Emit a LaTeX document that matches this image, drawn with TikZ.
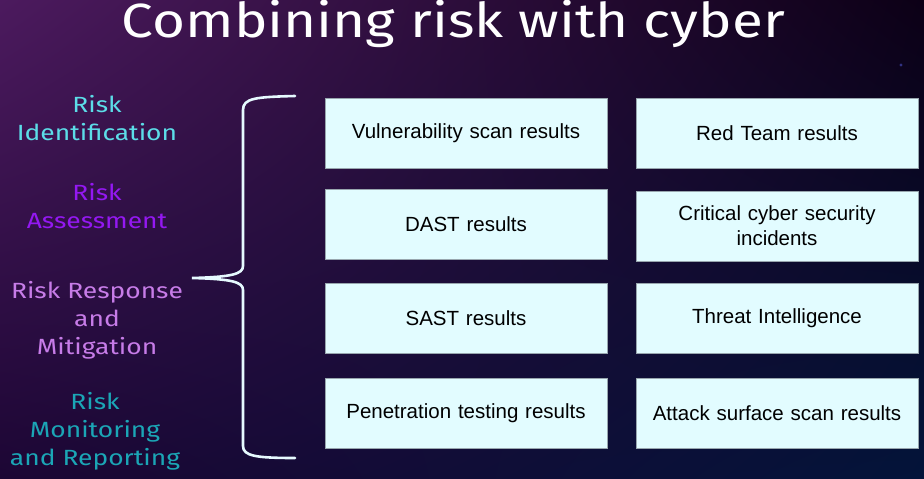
\documentclass[tikz,border=0pt]{standalone}
\usepackage{fontspec}
\usetikzlibrary{shadings}
\setmainfont{Fira Sans}
\newfontfamily\boxfont{Liberation Sans}
\newfontfamily\titlefont{Fira Sans}[FakeStretch=1.18]
\newfontfamily\labelfont{Fira Sans}[FakeStretch=1.2]
\definecolor{bgtl}{HTML}{4C1A5E}
\definecolor{bgtr}{HTML}{0C0016}
\definecolor{bgbl}{HTML}{1C0634}
\definecolor{bgbr}{HTML}{03143A}
\definecolor{rident}{HTML}{5CDDE8}
\definecolor{rassess}{HTML}{9418F2}
\definecolor{rrespond}{HTML}{C77CE8}
\definecolor{rmonitor}{HTML}{1BA6B6}
\definecolor{boxfill}{HTML}{E2FCFF}
\definecolor{boxline}{HTML}{98A6AE}
\definecolor{bracecol}{HTML}{E6FAFF}

\begin{document}
\begin{tikzpicture}[x=1pt,y=-1pt,
    rbox/.style={draw=boxline, line width=0.8pt, fill=boxfill, minimum width=282pt, minimum height=70pt, inner sep=0pt, text width=262pt, align=center, font=\boxfont\fontsize{20.5}{25}\selectfont, text=black},
    rlabel/.style={align=center, inner sep=0pt, font=\labelfont\fontsize{22}{28}\selectfont}]
    \useasboundingbox (0,0) rectangle (924,479);
    \shade[upper left=bgtl, upper right=bgtr, lower left=bgbl, lower right=bgbr] (0,0) rectangle (924,479);
    \fill[blue!45!gray!70!black] (901,65) circle (1.6);

    \node (title) at (453.5,37) [anchor=base, text=white, inner sep=0pt, font=\titlefont\fontsize{48}{56}\selectfont] {Combining risk with cyber};

    \node[rlabel, text=rident] (ident) at (97,118) {Risk\\Identification};
    \node[rlabel, text=rassess] (assess) at (97,206) {Risk\\Assessment};
    \node[rlabel, text=rrespond] (respond) at (97,320) {Risk Response\\and\\Mitigation};
    \node[rlabel, text=rmonitor] (monitor) at (95,431) {Risk\\Monitoring\\and Reporting};

    \node[rbox] (vuln) at (466,133) {Vulnerability scan results};
    \node[rbox] (dast) at (466,224.5) {DAST results};
    \node[rbox] (sast) at (466,318.5) {SAST results};
    \node[rbox] (pen) at (466,413) {Penetration testing results};
    \node[rbox] (red) at (777,133) {Red Team results};
    \node[rbox] (crit) at (777,226) {Critical cyber security\\incidents};
    \node[rbox] (intel) at (777,318.5) {Threat Intelligence};
    \node[rbox] (surf) at (777,413) {Attack surface scan results};

    \coordinate (btop) at (295,96);
    \coordinate (btip) at (192,278);
    \coordinate (bbot) at (295,458);
    \draw[bracecol, line width=2.6pt, line cap=round]
      (btop) .. controls (256,97) and (243,98) .. (243,110) -- (243,266)
      .. controls (243,274) and (232,277) .. (btip)
      .. controls (232,279) and (243,282) .. (243,290) -- (243,446)
      .. controls (243,456) and (256,458) .. (bbot);
\end{tikzpicture}
\end{document}
